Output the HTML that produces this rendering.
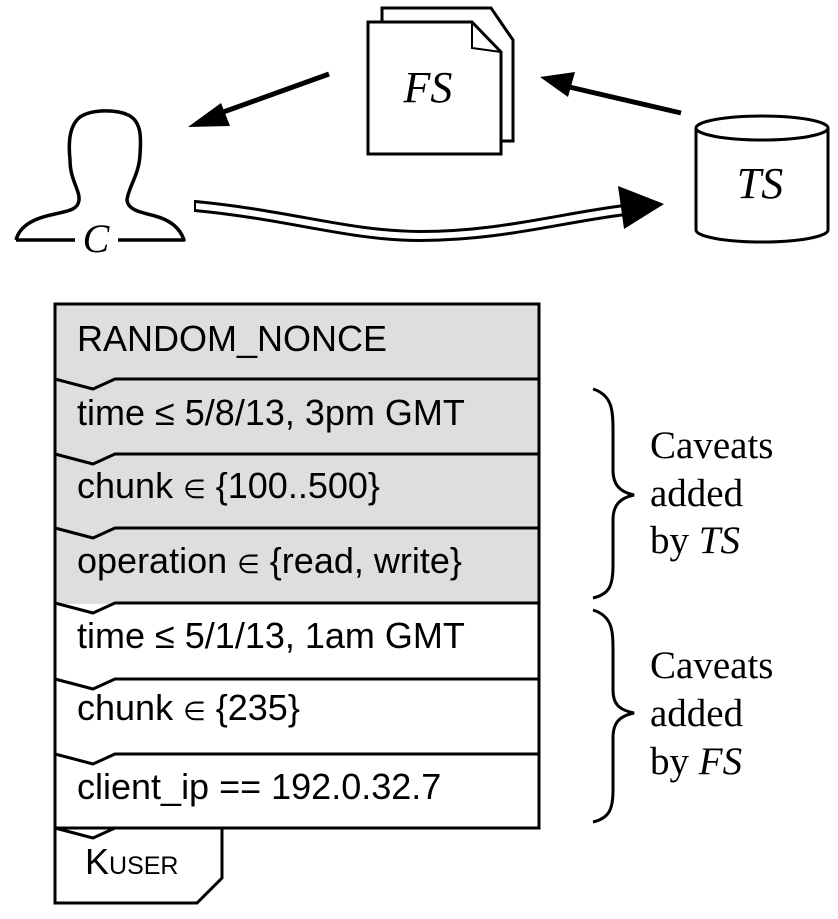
<!DOCTYPE html>
<html><head><meta charset="utf-8"><style>
html,body{margin:0;padding:0;background:#fff;}
svg{display:block;}
.s{font-family:"Liberation Sans",sans-serif;font-size:36px;fill:#000;}
.r{font-family:"Liberation Serif",serif;font-size:39px;fill:#000;}
.i{font-family:"Liberation Serif",serif;font-style:italic;fill:#000;}
</style></head><body>
<svg width="838" height="919" viewBox="0 0 838 919" xmlns="http://www.w3.org/2000/svg">
<!-- Person -->
<path d="M16,240 C20,225 35,218 55,214 C68,211 78,210 79,200 C80,190 70,180 70,160 C68,140 70,125 80,117 C92,109 118,109 130,116 C142,123 141,140 140,155 C139,175 128,188 127,200 C128,210 140,212 155,216 C170,220 180,228 184,240 L118,240 M75,240 L16,240" fill="none" stroke="#000" stroke-width="3.5" stroke-linejoin="round"/>
<text x="96" y="252" text-anchor="middle" class="i" font-size="40">C</text>
<!-- FS documents -->
<path d="M382,141 V8 H491 L513,40 V141 H501" fill="#fff" stroke="#000" stroke-width="3"/>
<path d="M368,154 V22 H472 L501,52 V154 Z" fill="#fff" stroke="#000" stroke-width="3"/>
<path d="M472,22 V48 L501,52" fill="none" stroke="#000" stroke-width="2"/>
<text x="428" y="102" text-anchor="middle" class="i" font-size="44">FS</text>
<!-- TS cylinder -->
<path d="M696,128 V230 A66,12 0 0 0 828,230 V128" fill="#fff" stroke="#000" stroke-width="3"/>
<ellipse cx="762" cy="128" rx="66" ry="12" fill="#fff" stroke="#000" stroke-width="3"/>
<text x="760" y="198" text-anchor="middle" class="i" font-size="44">TS</text>
<!-- arrows -->
<line x1="329" y1="74" x2="215" y2="115" stroke="#000" stroke-width="5"/>
<polygon points="188,127 221,103 230,126" fill="#000"/>
<line x1="681" y1="113" x2="565" y2="86" stroke="#000" stroke-width="5"/>
<polygon points="540,77 575,72 568,97" fill="#000"/>
<!-- hollow arrow -->
<path d="M195,206 C290,215 350,236 420,236 C500,236 560,218 625,210" fill="none" stroke="#000" stroke-width="12"/>
<path d="M195,206 C290,215 350,236 420,236 C500,236 560,218 625,210" fill="none" stroke="#fff" stroke-width="6"/>
<line x1="195" y1="200" x2="195" y2="212" stroke="#000" stroke-width="2"/>
<polygon points="664,204 618,186 624,229" fill="#000"/>
<!-- Box -->
<rect x="55" y="304" width="484" height="300" fill="#dedede"/>
<rect x="55" y="604" width="484" height="224" fill="#fff"/>
<path d="M55,828 V878 V903 H197 L222,878 V828 Z" fill="#fff" stroke="#000" stroke-width="3"/>
<rect x="55" y="304" width="484" height="524" fill="none" stroke="#000" stroke-width="3"/>
<g fill="none" stroke="#000" stroke-width="3" stroke-linejoin="round">
<path d="M55,379 L93,389 L115,379 H539"/>
<path d="M55,454 L93,464 L115,454 H539"/>
<path d="M55,528 L93,538 L115,528 H539"/>
<path d="M55,603 L93,613 L115,603 H539"/>
<path d="M55,679 L93,689 L115,679 H539"/>
<path d="M55,754 L93,764 L115,754 H539"/>
<path d="M55,828 L93,838 L115,828 H539"/>
</g>
<text x="77" y="351" class="s">RANDOM_NONCE</text>
<text x="77" y="425" class="s">time ≤ 5/8/13, 3pm GMT</text>
<text x="77" y="498" class="s">chunk <tspan font-size="26">∈</tspan> {100..500}</text>
<text x="77" y="573" class="s">operation <tspan font-size="26">∈</tspan> {read, write}</text>
<text x="77" y="648" class="s">time ≤ 5/1/13, 1am GMT</text>
<text x="77" y="720" class="s">chunk <tspan font-size="26">∈</tspan> {235}</text>
<text x="77" y="799" class="s">client_ip == 192.0.32.7</text>
<text x="85" y="874" class="s">K<tspan font-size="25">USER</tspan></text>
<!-- braces -->
<path d="M593,389 C612,395 613,410 613,430 V470 C613,485 620,492 634,495 C620,498 613,505 613,520 V565 C613,585 610,594 593,598" fill="none" stroke="#000" stroke-width="3"/>
<path d="M593,610 C612,616 613,630 613,650 V690 C613,705 620,710 634,713 C620,716 613,722 613,738 V790 C613,808 610,818 593,822" fill="none" stroke="#000" stroke-width="3"/>
<text x="650" y="458" class="r">Caveats</text>
<text x="650" y="506" class="r">added</text>
<text x="650" y="553" class="r">by <tspan font-style="italic">TS</tspan></text>
<text x="650" y="678" class="r">Caveats</text>
<text x="650" y="726" class="r">added</text>
<text x="650" y="774" class="r">by <tspan font-style="italic">FS</tspan></text>
</svg>
</body></html>
